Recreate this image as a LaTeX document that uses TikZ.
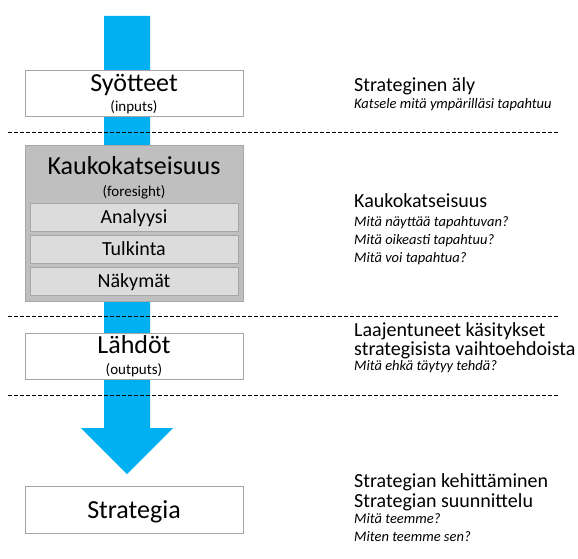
\documentclass[tikz,border=0pt]{standalone}
\usepackage{fontspec}
\setmainfont{Carlito}
\usetikzlibrary{positioning}

\definecolor{nuoli}{HTML}{00B0F0}
\definecolor{reuna}{HTML}{A6A6A6}
\definecolor{harmaa}{HTML}{BFBFBF}
\definecolor{vaalea}{HTML}{DCDCDC}

\tikzset{
  laatikko/.style={draw=reuna, line width=1pt, fill=white, minimum width=218pt, minimum height=46pt, inner sep=0pt},
  alalaatikko/.style={draw=reuna, line width=1pt, fill=vaalea, minimum width=208pt, minimum height=28pt, inner sep=0pt},
  iso/.style={font=\fontsize{26}{30}\selectfont, anchor=base, inner sep=0pt},
  pieni/.style={font=\fontsize{15}{17}\selectfont, anchor=base, inner sep=0pt},
  keski/.style={font=\fontsize{20}{22}\selectfont, anchor=base, inner sep=0pt},
  otsikko/.style={font=\fontsize{20}{19}\selectfont, anchor=base west, align=left, inner sep=0pt},
  kysymys/.style={font=\fontsize{14.5}{17}\selectfont\itshape, anchor=base west, inner sep=0pt},
  raja/.style={dash pattern=on 4pt off 2pt, line width=1pt}
}

\begin{document}
\begin{tikzpicture}[x=1pt,y=-1pt]
        \useasboundingbox (0,0) rectangle (578,559);

        % nuoli
        \fill[nuoli] (104,16) -- (150,16) -- (150,428) -- (173,428)
        -- (127,474) -- (81,428) -- (104,428) -- cycle;

        % laatikot
        \node[laatikko] (syotteet) at (134,94) {};
        \node[iso] (syotteetT) at (134,92) {Syötteet};
        \node[pieni] (syotteetS) at (134,112) {(inputs)};

        \node[laatikko, fill=harmaa, minimum height=156pt] (kauko) at (134,223) {};
        \node[iso] (kaukoT) at (134,175) {Kaukokatseisuus};
        \node[pieni] (kaukoS) at (134,196) {(foresight)};
        \node[alalaatikko] (analyysi) at (134,217.5) {};
        \node[keski] at (analyysi.center) [yshift=-6pt] {Analyysi};
        \node[alalaatikko] (tulkinta) at (134,249.5) {};
        \node[keski] at (tulkinta.center) [yshift=-6pt] {Tulkinta};
        \node[alalaatikko] (nakymat) at (134,281.5) {};
        \node[keski] at (nakymat.center) [yshift=-6pt] {Näkymät};

        \node[laatikko] (lahdot) at (134,356) {};
        \node[iso] (lahdotT) at (134,353) {Lähdöt};
        \node[pieni] (lahdotS) at (134,374) {(outputs)};

        \node[laatikko, minimum height=47pt] (strategia) at (134,509.5) {};
        \node[iso] (strategiaT) at (134,518) {Strategia};

        % katkoviivat
        \draw[raja] (8,132.5) -- (558,132.5);
        \draw[raja] (8,316) -- (558,316);
        \draw[raja] (8,395) -- (558,395);

        % selitykset
        \node[otsikko] (aly) at (354,92) {Strateginen äly};
        \node[kysymys] (aly1) at (354,109) {Katsele mitä ympärilläsi tapahtuu};

        \node[otsikko] (kk) at (354,207) {Kaukokatseisuus};
        \node[kysymys] (kk1) at (354,226) {Mitä näyttää tapahtuvan?};
        \node[kysymys] (kk2) at (354,244) {Mitä oikeasti tapahtuu?};
        \node[kysymys] (kk3) at (354,262) {Mitä voi tapahtua?};

        \node[otsikko] (laaj) at (354,355) {Laajentuneet käsitykset\\strategisista vaihtoehdoista};
        \node[kysymys] (laaj3) at (354,370) {Mitä ehkä täytyy tehdä?};

        \node[otsikko] (keh) at (354,507) {Strategian kehittäminen\\[1pt]Strategian suunnittelu};
        \node[kysymys] (keh3) at (354,523) {Mitä teemme?};
        \node[kysymys] (keh4) at (354,541) {Miten teemme sen?};
    \end{tikzpicture}
\end{document}
